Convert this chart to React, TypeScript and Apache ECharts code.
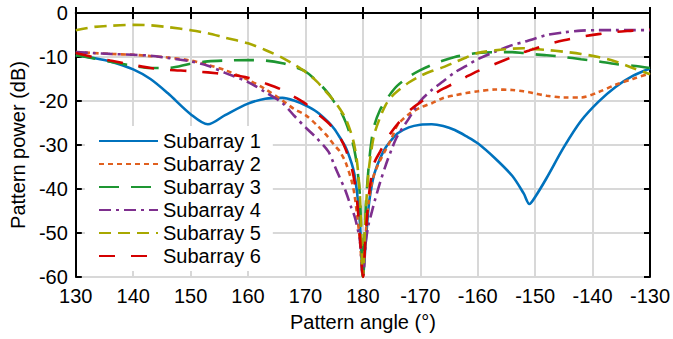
import React, { useEffect, useRef } from "react";
import * as echarts from "echarts";

const angles = [130, 133, 136, 140, 143, 146, 150, 153, 156, 160, 163, 166, 168, 170, 172, 174, 175, 176, 177, 178, 178.5, 179, 179.5, 180, 180.5, 181, 181.5, 182, 183, 184, 185, 186, 188, 190, 192, 194, 196, 198, 200, 203, 206, 208, 209, 210, 212, 215, 218, 221, 224, 227, 230];

const sub1 = [-9.6, -10.2, -11.0, -12.8, -15.0, -18.2, -23.0, -25.3, -23.2, -20.6, -19.5, -19.3, -19.9, -21.0, -22.5, -24.8, -26.3, -28.3, -30.5, -34, -36.5, -41, -48, -60, -52, -44, -39.5, -36.5, -33, -30.5, -28.8, -27.4, -26.0, -25.4, -25.3, -25.7, -26.6, -28.0, -29.6, -33, -37.0, -41.0, -43.4, -41.8, -37.5, -30.5, -24.5, -20.2, -16.8, -14.3, -12.6];
const sub2 = [-8.9, -9.1, -9.3, -9.5, -9.8, -10.1, -10.8, -11.8, -13.0, -15.2, -17.3, -19.9, -21.8, -23.2, -25.5, -28.3, -30, -31.5, -34, -38, -41, -46, -52, -60, -50, -43, -39, -36.5, -33.5, -31, -28.5, -25.5, -23, -21.5, -20.5, -19.3, -18.7, -18.2, -17.8, -17.4, -17.5, -17.8, -18.0, -18.3, -18.8, -19.2, -19.2, -18.0, -16.3, -15.0, -13.7];
const sub3 = [-9.6, -10.3, -11.1, -12.0, -12.5, -12.5, -11.5, -11.0, -10.8, -10.7, -10.8, -11.4, -12.2, -13.3, -15.5, -18.3, -20.2, -22, -24.8, -28.5, -31, -35, -42, -60, -44, -35, -29, -25.5, -22, -19.9, -18, -16.5, -14.5, -13.0, -11.8, -10.8, -10.0, -9.5, -9.1, -8.9, -8.9, -9.1, -9.2, -9.4, -9.6, -10.0, -10.5, -11.0, -11.6, -12.0, -12.5];
const sub4 = [-8.9, -9.1, -9.3, -9.5, -9.7, -10.2, -11.0, -12.0, -13.6, -15.7, -18.0, -20.5, -23.3, -26, -28.5, -31.5, -34.5, -37.5, -40.5, -44.3, -46, -48.5, -52, -60, -52, -48, -45.5, -43, -38.5, -34.5, -31, -28, -24, -20, -17.5, -15.5, -13.5, -12, -10.5, -8.8, -7.3, -6.6, -6.2, -5.8, -5.0, -4.4, -4.0, -3.9, -3.9, -3.9, -3.9];
const sub5 = [-3.9, -3.2, -2.9, -2.7, -2.8, -3.2, -3.9, -4.6, -5.6, -6.9, -8.4, -10.2, -11.7, -13.4, -15.6, -18.5, -20, -21.8, -24, -27.5, -30, -34, -42, -60, -45, -36, -31, -27.5, -23.7, -20.8, -19, -17.8, -15.8, -14.3, -13.2, -12.3, -11.2, -10.1, -9.1, -8.5, -8.1, -8.0, -8.1, -8.2, -8.4, -8.8, -9.3, -10.0, -11.0, -12.5, -13.9];
const sub6 = [-9.1, -10.0, -10.8, -11.8, -12.5, -12.9, -13.2, -13.5, -13.9, -14.7, -16.0, -17.5, -19.0, -20.6, -22.8, -25, -26.5, -28.3, -31, -35, -38, -43, -51, -60, -50, -42, -37, -34, -31.5, -29, -27, -25.3, -22.3, -20.3, -18.7, -17.2, -15.9, -14.5, -13.2, -11.6, -10.0, -8.9, -8.5, -8.1, -7.2, -6.2, -5.4, -4.8, -4.3, -4.0, -3.7];

const seriesNames = ["Subarray 1", "Subarray 2", "Subarray 3", "Subarray 4", "Subarray 5", "Subarray 6"];
const seriesValues = [sub1, sub2, sub3, sub4, sub5, sub6];
const colors = ["#0072BD", "#E0601F", "#1E9632", "#7E2F8E", "#A8A800", "#D40000"];
const dashes: (string | number[])[] = ["solid", [5, 4], [20, 12], [12, 5, 3, 5], [12, 7], [16, 16]];

const FONT = "'Liberation Sans', Arial, sans-serif";

export default function App() {
  const ref = useRef<HTMLDivElement>(null);
  useEffect(() => {
    if (!ref.current) return;
    const chart = echarts.init(ref.current, undefined, { renderer: "svg" });
    const axisLine = { show: true, lineStyle: { color: "#000", width: 2 } };
    const tick = { show: true, inside: true, length: 6, lineStyle: { color: "#000", width: 2 } };
    const split = { show: true, lineStyle: { color: "#d8d8d8", width: 2 } };
    const labelStyle = { color: "#000", fontSize: 20, fontFamily: FONT };
    chart.setOption({
      animation: false,
      backgroundColor: "#fff",
      grid: { left: 71, right: 20, top: 13, bottom: 62, containLabel: false },
      legend: {
        orient: "vertical",
        left: 85,
        top: 126,
        padding: [5, 12, 5, 13],
        backgroundColor: "#fff",
        itemWidth: 59,
        itemHeight: 14,
        itemGap: 3,
        selectedMode: false,
        itemStyle: { opacity: 0 },
        textStyle: { color: "#000", fontSize: 20, fontFamily: FONT, lineHeight: 20 },
        data: seriesNames,
      },
      xAxis: [
        {
          type: "value",
          min: 130,
          max: 230,
          interval: 10,
          position: "bottom",
          name: "Pattern angle (°)",
          nameLocation: "middle",
          nameGap: 35,
          nameTextStyle: labelStyle,
          axisLine,
          axisTick: tick,
          splitLine: split,
          axisLabel: {
            ...labelStyle,
            margin: 9,
            formatter: (v: number) => String(v > 180 ? v - 360 : v),
          },
        },
        {
          type: "value",
          min: 130,
          max: 230,
          interval: 10,
          position: "top",
          axisLine,
          axisTick: tick,
          splitLine: { show: false },
          axisLabel: { show: false },
        },
      ],
      yAxis: [
        {
          type: "value",
          min: -60,
          max: 0,
          interval: 10,
          position: "left",
          name: "Pattern power (dB)",
          nameLocation: "middle",
          nameGap: 45,
          nameTextStyle: labelStyle,
          axisLine,
          axisTick: tick,
          splitLine: split,
          axisLabel: { ...labelStyle, margin: 8 },
        },
        {
          type: "value",
          min: -60,
          max: 0,
          interval: 10,
          position: "right",
          axisLine,
          axisTick: tick,
          splitLine: { show: false },
          axisLabel: { show: false },
        },
      ],
      series: seriesNames.map((name, i) => ({
        name,
        type: "line",
        xAxisIndex: 0,
        yAxisIndex: 0,
        symbol: "none",
        smooth: 0.3,
        clip: true,
        data: angles.map((a, j) => [a, seriesValues[i][j]]),
        lineStyle: { color: colors[i], width: 2.6, type: dashes[i] },
        itemStyle: { color: colors[i] },
      })),
    });
    return () => chart.dispose();
  }, []);
  return (
    <div
      ref={ref}
      style={{ position: "fixed", left: 0, top: 0, width: 673, height: 339, background: "#fff" }}
    />
  );
}
